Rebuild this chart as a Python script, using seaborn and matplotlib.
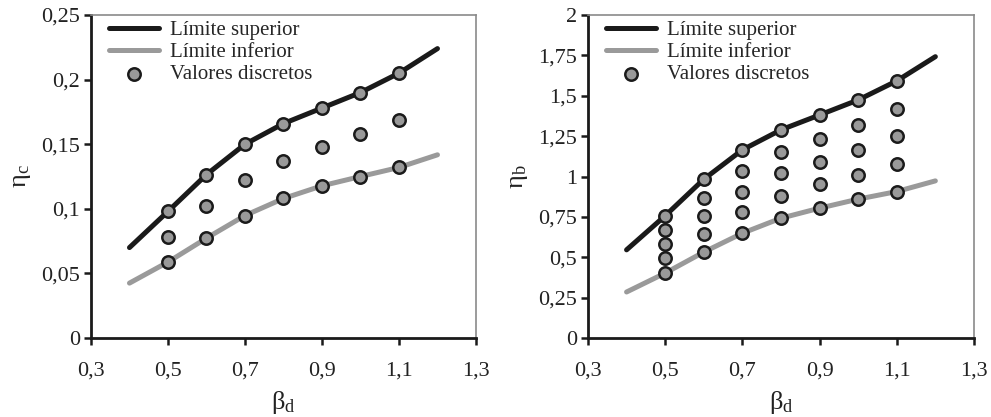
import numpy as np
import pandas as pd
import matplotlib
matplotlib.use("Agg")
import matplotlib.pyplot as plt
from matplotlib.ticker import FuncFormatter, MultipleLocator, FixedLocator
import seaborn as sns

# x values for the limit curves and the discrete points
beta_line = [0.4, 0.5, 0.6, 0.7, 0.8, 0.9, 1.0, 1.1, 1.2]
beta_pts = [0.5, 0.6, 0.7, 0.8, 0.9, 1.0, 1.1]
x_ticks = [0.3, 0.5, 0.7, 0.9, 1.1, 1.3]

# eta_c panel
etac_sup = [0.070, 0.098, 0.1265, 0.150, 0.166, 0.178, 0.190, 0.205, 0.224]
etac_inf = [0.0425, 0.0588, 0.0773, 0.0948, 0.108, 0.1178, 0.125, 0.132, 0.1418]
etac_mid = [0.078, 0.102, 0.122, 0.137, 0.148, 0.158, 0.169]

# eta_b panel
etab_sup = [0.546, 0.757, 0.983, 1.165, 1.289, 1.381, 1.474, 1.592, 1.742]
etab_inf = [0.285, 0.402, 0.532, 0.649, 0.742, 0.804, 0.860, 0.907, 0.973]
etab_pts = {
    0.5: [0.757, 0.670, 0.581, 0.493, 0.402],
    0.6: [0.983, 0.866, 0.757, 0.645, 0.532],
    0.7: [1.165, 1.033, 0.905, 0.779, 0.649],
    0.8: [1.289, 1.153, 1.019, 0.882, 0.742],
    0.9: [1.381, 1.235, 1.091, 0.951, 0.804],
    1.0: [1.474, 1.318, 1.165, 1.012, 0.860],
    1.1: [1.592, 1.421, 1.249, 1.080, 0.907],
}

sns.set_style("white")
plt.rcParams['font.family'] = ['Liberation Serif', 'DejaVu Serif']
plt.rcParams['mathtext.fontset'] = 'custom'
plt.rcParams['mathtext.rm'] = 'Liberation Serif'

comma = FuncFormatter(lambda v, p: ('%g' % round(v, 4)).replace('.', ','))

fig = plt.figure(figsize=(9.91, 4.17), dpi=100)
ax1 = fig.add_axes([0.0918, 0.1894, 0.3885, 0.7746])
ax2 = fig.add_axes([0.5933, 0.1894, 0.3895, 0.7746])


def draw(ax, sup, inf, px, py, ymax, ystep, ylab):
    lines = pd.DataFrame({'x': beta_line, 'sup': sup, 'inf': inf})
    sns.lineplot(data=lines, x='x', y='sup', ax=ax, color='#1a1a1a', lw=3.6,
                 label='Límite superior', zorder=2)
    sns.lineplot(data=lines, x='x', y='inf', ax=ax, color='#9a9a9a', lw=3.6,
                 label='Límite inferior', zorder=2)
    pts = pd.DataFrame({'x': px, 'y': py})
    sns.scatterplot(data=pts, x='x', y='y', ax=ax, s=80, color='#999999',
                    edgecolor='#1a1a1a', linewidth=1.8, label='Valores discretos',
                    zorder=3)
    ax.set_xlim(0.3, 1.3)
    ax.set_ylim(0, ymax)
    ax.xaxis.set_major_locator(FixedLocator(x_ticks))
    ax.yaxis.set_major_locator(MultipleLocator(ystep))
    ax.xaxis.set_major_formatter(comma)
    ax.yaxis.set_major_formatter(comma)
    ax.tick_params(axis='both', direction='out', length=5, width=1.8,
                   color='#1a1a1a', labelsize=16, labelcolor='#222222')
    ax.tick_params(axis='x', pad=12)
    ax.tick_params(axis='y', pad=3)
    ax.tick_params(left=True, bottom=True)
    for s in ['left', 'bottom']:
        ax.spines[s].set_color('#1a1a1a')
        ax.spines[s].set_linewidth(2)
    for s in ['top', 'right']:
        ax.spines[s].set_color('#8a8a8a')
        ax.spines[s].set_linewidth(1.2)
    ax.set_xlabel(r'$\mathregular{\beta_d}$', fontsize=19, color='#222222', labelpad=6)
    ax.set_ylabel(ylab, fontsize=19, color='#222222', labelpad=6)
    ax.legend(loc='upper left', frameon=False, fontsize=15, handlelength=2.4,
              handletextpad=0.5, labelspacing=0.12, borderaxespad=0.1,
              bbox_to_anchor=(0.02, 1.015))


draw(ax1, etac_sup, etac_inf,
     beta_pts * 3, etac_sup[1:8] + etac_mid + etac_inf[1:8],
     0.25, 0.05, r'$\mathregular{\eta_c}$')

bx = [b for b in beta_pts for _ in etab_pts[b]]
by = [v for b in beta_pts for v in etab_pts[b]]
draw(ax2, etab_sup, etab_inf, bx, by, 2.0, 0.25, r'$\mathregular{\eta_b}$')

fig.savefig('out.png', dpi=100)
